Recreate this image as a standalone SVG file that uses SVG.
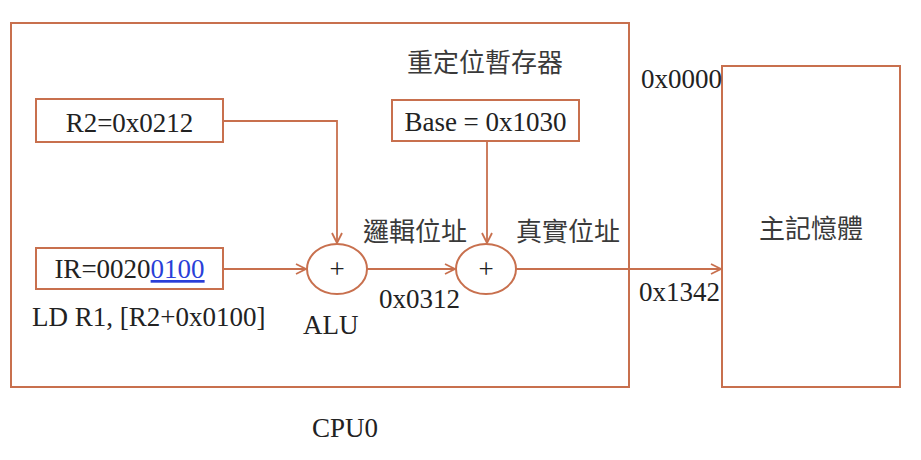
<svg xmlns="http://www.w3.org/2000/svg" width="921" height="460" viewBox="0 0 921 460">
<defs>
<style>
.box{fill:none;stroke:#c8704e;stroke-width:2}
.ln{fill:none;stroke:#c8704e;stroke-width:1.8}
.t{font-family:"Liberation Serif","Times New Roman",serif;font-size:27px;fill:#222222}
.c{font-family:"Noto Sans CJK TC","Noto Sans CJK SC",sans-serif;font-size:26px;fill:#3a3a3a}
</style>
<marker id="arr" viewBox="0 0 12 12" refX="11" refY="6" markerWidth="12" markerHeight="12" markerUnits="userSpaceOnUse" orient="auto">
<path d="M1,1 L11,6 L1,11" fill="none" stroke="#c8704e" stroke-width="1.8"/>
</marker>
</defs>
<rect width="921" height="460" fill="#ffffff"/>
<g id="cpu">
<rect class="box" x="11" y="23" width="618" height="364"/>
<text class="t" x="312" y="437">CPU0</text>
</g>
<g id="memory">
<rect class="box" x="722" y="66" width="178" height="321"/>
<text class="c" x="811" y="238" text-anchor="middle">主記憶體</text>
<text class="t" x="641" y="88">0x0000</text>
<text class="t" x="639" y="301">0x1342</text>
</g>
<g id="r2">
<rect class="box" x="36" y="99" width="187" height="43"/>
<text class="t" x="129.5" y="132" text-anchor="middle">R2=0x0212</text>
</g>
<g id="base">
<text class="c" x="485" y="72" text-anchor="middle">重定位暫存器</text>
<rect class="box" x="392" y="100" width="187" height="41"/>
<text class="t" x="485.5" y="131" text-anchor="middle">Base = 0x1030</text>
</g>
<g id="ir">
<rect class="box" x="36" y="248" width="187" height="41"/>
<text class="t" x="129.5" y="278" text-anchor="middle">IR=0020<tspan fill="#2a3fd8" text-decoration="underline">0100</tspan></text>
<text class="t" x="32" y="326">LD R1, [R2+0x0100]</text>
</g>
<g id="alu">
<ellipse class="box" cx="337" cy="269" rx="30" ry="25"/>
<text class="t" x="337" y="278" text-anchor="middle" font-size="26">+</text>
<text class="t" x="303" y="334">ALU</text>
</g>
<g id="adder">
<ellipse class="box" cx="486" cy="269" rx="30" ry="25"/>
<text class="t" x="486" y="278" text-anchor="middle" font-size="26">+</text>
</g>
<g id="connectors">
<path class="ln" d="M223,121 H337 V243" marker-end="url(#arr)"/>
<path class="ln" d="M487,141 V243" marker-end="url(#arr)"/>
<path class="ln" d="M223,269 H306" marker-end="url(#arr)"/>
<path class="ln" d="M367,269 H455" marker-end="url(#arr)"/>
<path class="ln" d="M516,269 H721" marker-end="url(#arr)"/>
</g>
<g id="labels">
<text class="c" x="363" y="241">邏輯位址</text>
<text class="c" x="516" y="241">真實位址</text>
<text class="t" x="379" y="308">0x0312</text>
</g>
</svg>
